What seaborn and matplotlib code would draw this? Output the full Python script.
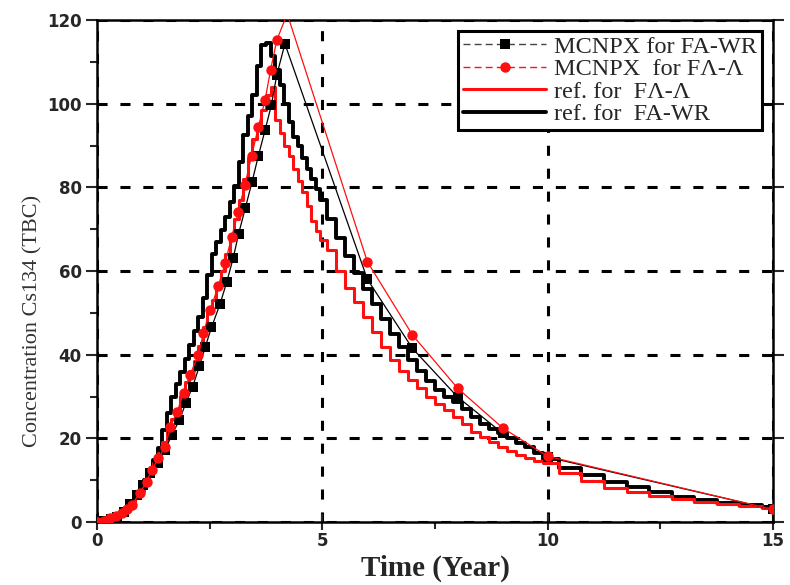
import numpy as np
import pandas as pd
import matplotlib
matplotlib.use("Agg")
import matplotlib.pyplot as plt
from matplotlib.lines import Line2D
from matplotlib.ticker import MultipleLocator
import seaborn as sns

# ---- MCNPX results (Cs-134 concentration, TBC) ----
wr_mc_time = [0.0, 0.15, 0.30, 0.45, 0.60, 0.74, 0.88, 1.03, 1.18, 1.35, 1.51, 1.66,
              1.83, 1.97, 2.12, 2.27, 2.40, 2.54, 2.73, 2.88, 3.02, 3.14, 3.29, 3.44,
              3.58, 3.73, 3.87, 3.99, 4.17, 6.0, 7.0, 8.0, 9.0, 10.0, 15.0]
wr_mc_conc = [0.0, 0.2, 0.6, 1.3, 2.4, 4.2, 6.5, 8.8, 11.6, 14.0, 17.2, 20.8,
              24.4, 28.4, 32.3, 37.2, 41.8, 46.5, 52.1, 57.4, 63.0, 68.8, 75.0, 81.3,
              87.5, 93.7, 99.7, 106.9, 114.3, 58.0, 41.5, 29.9, 21.2, 15.5, 3.0]

aa_mc_time = [0.0, 0.15, 0.29, 0.42, 0.55, 0.66, 0.77, 0.95, 1.10, 1.21, 1.36, 1.51,
              1.63, 1.78, 1.92, 2.06, 2.25, 2.36, 2.51, 2.69, 2.84, 2.99, 3.13, 3.28,
              3.43, 3.58, 3.73, 3.85, 3.99, 4.22, 6.0, 7.0, 8.0, 9.0, 10.0, 15.0]
aa_mc_conc = [0.0, 0.3, 1.0, 1.5, 2.1, 3.0, 4.1, 6.9, 9.6, 12.4, 15.2, 18.0,
              22.8, 26.4, 30.8, 35.1, 39.9, 45.1, 50.7, 56.3, 61.8, 68.2, 74.0, 80.5,
              87.5, 94.4, 100.9, 108.0, 115.2, 121.5, 62.2, 44.7, 32.0, 22.5, 15.7, 3.0]

# ---- Reference solutions on a common time grid ----
ref_time = ([0.0, 0.1, 0.2, 0.3, 0.4, 0.5, 0.6, 0.7, 0.8, 0.9,
             1.0, 1.1, 1.2, 1.3, 1.4, 1.5, 1.6, 1.7, 1.8, 1.9,
             2.0, 2.1, 2.2, 2.3, 2.4, 2.5, 2.6, 2.7, 2.8, 2.9,
             3.0, 3.1, 3.2, 3.3, 3.4, 3.5, 3.6, 3.7, 3.8, 3.9,
             4.0, 4.1, 4.2, 4.3, 4.4, 4.5, 4.6, 4.7, 4.8, 4.9, 5.0]
            + [5.2, 5.4, 5.6, 5.8, 6.0, 6.2, 6.4, 6.6, 6.8, 7.0,
               7.2, 7.4, 7.6, 7.8, 8.0, 8.2, 8.4, 8.6, 8.8, 9.0,
               9.2, 9.4, 9.6, 9.8, 10.0]
            + [10.5, 11.0, 11.5, 12.0, 12.5, 13.0, 13.5, 14.0, 14.5, 15.0])

wr_ref_conc = ([0.0, 0.1, 0.3, 0.6, 1.0, 1.5, 2.3, 3.3, 4.6, 6.2,
                8.0, 10.0, 12.2, 14.8, 17.8, 22.0, 26.0, 30.0, 33.0, 35.8,
                39.0, 42.3, 45.6, 49.0, 53.5, 59.0, 64.0, 67.0, 69.8, 73.0,
                76.5, 80.2, 86.0, 92.5, 97.0, 102.0, 109.0, 114.0, 114.5, 111.5,
                108.0, 104.5, 100.0, 95.5, 92.0, 89.8, 87.0, 84.5, 82.0, 79.5, 77.0]
               + [72.5, 68.0, 63.5, 59.5, 55.6, 52.0, 48.5, 45.0, 41.8, 38.8,
                  36.0, 33.6, 31.6, 30.0, 28.6, 27.0, 25.2, 23.5, 22.3, 21.2,
                  20.0, 18.9, 17.9, 16.5, 15.0]
               + [13.0, 11.3, 9.6, 8.3, 7.1, 6.0, 5.2, 4.6, 4.0, 3.5])

aa_ref_conc = ([0.0, 0.1, 0.3, 0.6, 1.1, 1.7, 2.5, 3.4, 4.5, 5.8,
                7.3, 9.2, 11.5, 14.0, 16.5, 19.2, 22.0, 24.6, 27.0, 30.2,
                33.5, 36.0, 38.5, 42.0, 46.5, 50.0, 53.0, 56.5, 60.0, 64.0,
                68.0, 72.5, 77.0, 82.0, 87.0, 91.5, 95.0, 98.5, 102.0, 104.0,
                96.0, 93.0, 90.0, 87.5, 84.5, 81.5, 79.0, 75.5, 72.0, 69.5, 67.5]
               + [65.0, 60.0, 56.0, 52.5, 49.0, 45.5, 41.8, 38.8, 36.0, 34.0,
                  32.0, 30.0, 28.3, 26.8, 25.0, 23.4, 21.6, 20.2, 19.2, 18.0,
                  17.0, 16.1, 15.2, 14.6, 14.0]
               + [11.8, 9.8, 8.2, 7.2, 6.3, 5.5, 4.8, 4.3, 3.8, 3.3])

series_labels = ["MCNPX for FA-WR", "MCNPX  for F\u039b-\u039b",
                 "ref. for  F\u039b-\u039b", "ref. for  FA-WR"]
x_ticks = [0, 5, 10, 15]
y_ticks = [0, 20, 40, 60, 80, 100, 120]

sns.set_style("ticks")
plt.rcParams["font.family"] = ["Liberation Serif", "DejaVu Serif"]

RED = "#ff1010"

fig = plt.figure(figsize=(7.9, 5.85), dpi=100)
ax = fig.add_axes([97 / 790, 63 / 585, 676 / 790, 502 / 585])

ref_df = pd.DataFrame({"t": ref_time, "wr": wr_ref_conc, "aa": aa_ref_conc})
wr_df = pd.DataFrame({"t": wr_mc_time, "c": wr_mc_conc})
aa_df = pd.DataFrame({"t": aa_mc_time, "c": aa_mc_conc})

# reference curves (stepped)
sns.lineplot(data=ref_df, x="t", y="wr", ax=ax, color="black", linewidth=2.8,
             drawstyle="steps-mid", estimator=None, sort=False, legend=False, zorder=3)
sns.lineplot(data=ref_df, x="t", y="aa", ax=ax, color=RED, linewidth=2.2,
             drawstyle="steps-mid", estimator=None, sort=False, legend=False, zorder=3)

# MCNPX points
sns.lineplot(data=wr_df, x="t", y="c", ax=ax, color="black", linewidth=0.9,
             marker="s", markersize=6.5, markeredgewidth=0, estimator=None,
             sort=False, legend=False, zorder=4)
sns.lineplot(data=aa_df, x="t", y="c", ax=ax, color=RED, linewidth=0.9,
             marker="o", markersize=7.5, markeredgewidth=0, estimator=None,
             sort=False, legend=False, zorder=5)

ax.set_xlim(0, 15)
ax.set_ylim(0, 120)
ax.set_xticks(x_ticks)
ax.set_yticks(y_ticks)
ax.xaxis.set_minor_locator(MultipleLocator(2.5))
ax.yaxis.set_minor_locator(MultipleLocator(10))

ax.grid(True, which="major", color="black", linewidth=2.2,
        linestyle=(0, (3.3, 4.2)))
ax.set_axisbelow(True)

for side in ["left", "right", "top", "bottom"]:
    ax.spines[side].set_linewidth(1.8)
    ax.spines[side].set_color("black")

ax.tick_params(axis="x", which="major", direction="inout", length=11, width=1.5,
               pad=2)
ax.tick_params(axis="x", which="minor", direction="out", length=5, width=1.5)
ax.tick_params(axis="y", which="major", direction="out", length=8, width=1.5,
               pad=3, right=True)
ax.tick_params(axis="y", which="minor", direction="out", length=5, width=1.5)

for lab in ax.get_xticklabels() + ax.get_yticklabels():
    lab.set_fontfamily("DejaVu Sans")
    lab.set_fontweight("bold")
    lab.set_fontsize(12)

ax.set_xlabel("Time (Year)", fontsize=21, fontweight="bold", labelpad=3)
ax.set_ylabel("Concentration Cs134 (TBC)", fontsize=16, color="#333333")
ax.yaxis.set_label_coords(-0.08, 0.40)

handles = [
    Line2D([], [], color="#444444", linewidth=1.0, linestyle=(0, (5, 3)),
           marker="s", markersize=6.5, markerfacecolor="black",
           markeredgewidth=0),
    Line2D([], [], color=RED, linewidth=1.0, linestyle=(0, (5, 3)),
           marker="o", markersize=7.5, markerfacecolor=RED, markeredgewidth=0),
    Line2D([], [], color=RED, linewidth=2.2),
    Line2D([], [], color="black", linewidth=2.8),
]
leg = ax.legend(handles, series_labels, loc="upper right",
                bbox_to_anchor=(0.984, 0.978), fontsize=17.5, frameon=True,
                fancybox=False, framealpha=1, edgecolor="black",
                handlelength=3.4, handletextpad=0.35, labelspacing=0.02,
                borderpad=0.2, borderaxespad=0)
leg.get_frame().set_linewidth(2.2)

fig.savefig("out.png", dpi=100)
